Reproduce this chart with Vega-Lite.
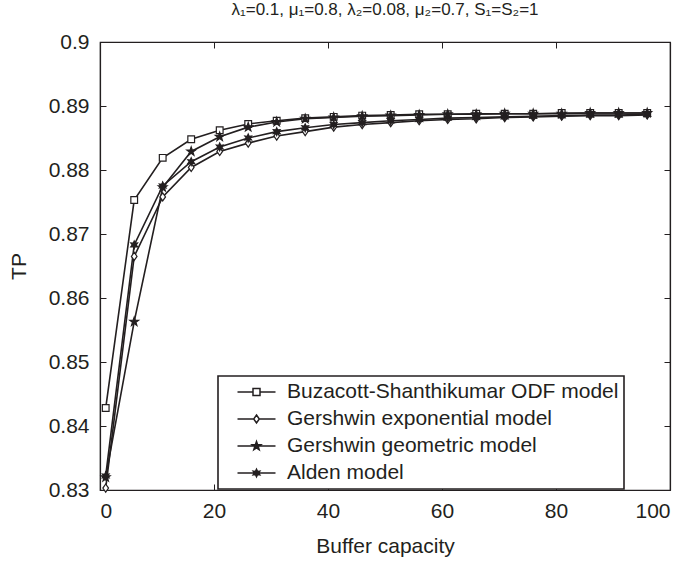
{
  "$schema": "https://vega.github.io/schema/vega-lite/v6.json",
  "width": 570,
  "height": 448,
  "autosize": {"type": "none"},
  "padding": {"left": 100, "top": 42, "right": 17, "bottom": 72},
  "background": "white",
  "title": {"text": "λ₁=0.1, μ₁=0.8, λ₂=0.08, μ₂=0.7, S₁=S₂=1", "fontSize": 17, "font": "Liberation Sans", "fontWeight": "normal", "color": "#231f20", "offset": 12, "anchor": "middle"},
  "config": {
    "view": {"stroke": "#231f20", "strokeWidth": 1.2},
    "legend": {"strokeWidth": 1.6},
    "axis": {"grid": false, "domainColor": "#231f20", "tickColor": "#231f20", "labelColor": "#231f20", "titleColor": "#231f20", "labelFont": "Liberation Sans", "titleFont": "Liberation Sans", "labelFontSize": 21, "titleFontSize": 21, "titleFontWeight": "normal", "tickSize": -6, "domainWidth": 1.2, "tickWidth": 1}
  },
  "data": {"values": [
    {"x":1,"TP":0.8428,"series":"Buzacott-Shanthikumar ODF model"},
    {"x":6,"TP":0.8753,"series":"Buzacott-Shanthikumar ODF model"},
    {"x":11,"TP":0.8819,"series":"Buzacott-Shanthikumar ODF model"},
    {"x":16,"TP":0.8848,"series":"Buzacott-Shanthikumar ODF model"},
    {"x":21,"TP":0.8862,"series":"Buzacott-Shanthikumar ODF model"},
    {"x":26,"TP":0.8872,"series":"Buzacott-Shanthikumar ODF model"},
    {"x":31,"TP":0.8877,"series":"Buzacott-Shanthikumar ODF model"},
    {"x":36,"TP":0.8881,"series":"Buzacott-Shanthikumar ODF model"},
    {"x":41,"TP":0.8883,"series":"Buzacott-Shanthikumar ODF model"},
    {"x":46,"TP":0.8885,"series":"Buzacott-Shanthikumar ODF model"},
    {"x":51,"TP":0.8886,"series":"Buzacott-Shanthikumar ODF model"},
    {"x":56,"TP":0.8887,"series":"Buzacott-Shanthikumar ODF model"},
    {"x":61,"TP":0.8887,"series":"Buzacott-Shanthikumar ODF model"},
    {"x":66,"TP":0.8888,"series":"Buzacott-Shanthikumar ODF model"},
    {"x":71,"TP":0.8888,"series":"Buzacott-Shanthikumar ODF model"},
    {"x":76,"TP":0.8888,"series":"Buzacott-Shanthikumar ODF model"},
    {"x":81,"TP":0.8889,"series":"Buzacott-Shanthikumar ODF model"},
    {"x":86,"TP":0.8889,"series":"Buzacott-Shanthikumar ODF model"},
    {"x":91,"TP":0.8889,"series":"Buzacott-Shanthikumar ODF model"},
    {"x":96,"TP":0.8889,"series":"Buzacott-Shanthikumar ODF model"},
    {"x":1,"TP":0.8303,"series":"Gershwin exponential model"},
    {"x":6,"TP":0.8665,"series":"Gershwin exponential model"},
    {"x":11,"TP":0.8758,"series":"Gershwin exponential model"},
    {"x":16,"TP":0.8804,"series":"Gershwin exponential model"},
    {"x":21,"TP":0.8829,"series":"Gershwin exponential model"},
    {"x":26,"TP":0.8842,"series":"Gershwin exponential model"},
    {"x":31,"TP":0.8853,"series":"Gershwin exponential model"},
    {"x":36,"TP":0.8860,"series":"Gershwin exponential model"},
    {"x":41,"TP":0.8867,"series":"Gershwin exponential model"},
    {"x":46,"TP":0.8871,"series":"Gershwin exponential model"},
    {"x":51,"TP":0.8874,"series":"Gershwin exponential model"},
    {"x":56,"TP":0.8877,"series":"Gershwin exponential model"},
    {"x":61,"TP":0.8879,"series":"Gershwin exponential model"},
    {"x":66,"TP":0.8880,"series":"Gershwin exponential model"},
    {"x":71,"TP":0.8882,"series":"Gershwin exponential model"},
    {"x":76,"TP":0.8883,"series":"Gershwin exponential model"},
    {"x":81,"TP":0.8884,"series":"Gershwin exponential model"},
    {"x":86,"TP":0.8885,"series":"Gershwin exponential model"},
    {"x":91,"TP":0.8885,"series":"Gershwin exponential model"},
    {"x":96,"TP":0.8886,"series":"Gershwin exponential model"},
    {"x":1,"TP":0.8320,"series":"Gershwin geometric model"},
    {"x":6,"TP":0.8563,"series":"Gershwin geometric model"},
    {"x":11,"TP":0.8773,"series":"Gershwin geometric model"},
    {"x":16,"TP":0.8829,"series":"Gershwin geometric model"},
    {"x":21,"TP":0.8852,"series":"Gershwin geometric model"},
    {"x":26,"TP":0.8867,"series":"Gershwin geometric model"},
    {"x":31,"TP":0.8875,"series":"Gershwin geometric model"},
    {"x":36,"TP":0.8880,"series":"Gershwin geometric model"},
    {"x":41,"TP":0.8882,"series":"Gershwin geometric model"},
    {"x":46,"TP":0.8884,"series":"Gershwin geometric model"},
    {"x":51,"TP":0.8885,"series":"Gershwin geometric model"},
    {"x":56,"TP":0.8886,"series":"Gershwin geometric model"},
    {"x":61,"TP":0.8887,"series":"Gershwin geometric model"},
    {"x":66,"TP":0.8887,"series":"Gershwin geometric model"},
    {"x":71,"TP":0.8888,"series":"Gershwin geometric model"},
    {"x":76,"TP":0.8888,"series":"Gershwin geometric model"},
    {"x":81,"TP":0.8888,"series":"Gershwin geometric model"},
    {"x":86,"TP":0.8889,"series":"Gershwin geometric model"},
    {"x":91,"TP":0.8889,"series":"Gershwin geometric model"},
    {"x":96,"TP":0.8889,"series":"Gershwin geometric model"},
    {"x":1,"TP":0.8322,"series":"Alden model"},
    {"x":6,"TP":0.8683,"series":"Alden model"},
    {"x":11,"TP":0.8775,"series":"Alden model"},
    {"x":16,"TP":0.8813,"series":"Alden model"},
    {"x":21,"TP":0.8836,"series":"Alden model"},
    {"x":26,"TP":0.8850,"series":"Alden model"},
    {"x":31,"TP":0.8860,"series":"Alden model"},
    {"x":36,"TP":0.8866,"series":"Alden model"},
    {"x":41,"TP":0.8871,"series":"Alden model"},
    {"x":46,"TP":0.8874,"series":"Alden model"},
    {"x":51,"TP":0.8877,"series":"Alden model"},
    {"x":56,"TP":0.8879,"series":"Alden model"},
    {"x":61,"TP":0.8881,"series":"Alden model"},
    {"x":66,"TP":0.8882,"series":"Alden model"},
    {"x":71,"TP":0.8883,"series":"Alden model"},
    {"x":76,"TP":0.8884,"series":"Alden model"},
    {"x":81,"TP":0.8885,"series":"Alden model"},
    {"x":86,"TP":0.8886,"series":"Alden model"},
    {"x":91,"TP":0.8886,"series":"Alden model"},
    {"x":96,"TP":0.8887,"series":"Alden model"}
  ]},
  "resolve": {"scale": {"x": "independent", "y": "independent", "shape": "independent", "fill": "independent", "stroke": "independent"}},
  "layer": [
    {
      "encoding": {
        "x": {"field": "x", "type": "quantitative", "scale": {"domain": [0, 100], "nice": false}, "axis": {"title": "Buffer capacity", "values": [0, 20, 40, 60, 80, 100], "format": "d", "labelPadding": 16, "titlePadding": 14}},
        "y": {"field": "TP", "type": "quantitative", "scale": {"domain": [0.83, 0.9], "nice": false, "zero": false}, "axis": {"title": "TP", "values": [0.83, 0.84, 0.85, 0.86, 0.87, 0.88, 0.89, 0.9], "format": ".2~f", "labelPadding": 17, "titlePadding": 19}}
      },
      "layer": [
        {"mark": {"type": "line", "stroke": "#231f20", "strokeWidth": 1.6}, "encoding": {"detail": {"field": "series"}}},
        {"mark": {"type": "point", "filled": true, "stroke": "#231f20", "strokeWidth": 1.2, "opacity": 1, "size": 50},
         "encoding": {
           "shape": {"field": "series", "legend": null, "scale": {"domain": ["Buzacott-Shanthikumar ODF model", "Gershwin exponential model", "Gershwin geometric model", "Alden model"], "range": [
             "M-0.95,-0.95H0.95V0.95H-0.95Z",
             "M0,-1.15L0.8,0L0,1.15L-0.8,0Z",
             "M0,-1.3L0.306,-0.421L1.236,-0.402L0.495,0.161L0.764,1.052L0,0.52L-0.764,1.052L-0.495,0.161L-1.236,-0.402L-0.306,-0.421Z",
             "M0,-1.1L0.275,-0.476L0.953,-0.55L0.55,0L0.953,0.55L0.275,0.476L0,1.1L-0.275,0.476L-0.953,0.55L-0.55,0L-0.953,-0.55L-0.275,-0.476Z"
           ]}},
           "fill": {"field": "series", "legend": null, "scale": {"domain": ["Buzacott-Shanthikumar ODF model", "Gershwin exponential model", "Gershwin geometric model", "Alden model"], "range": ["white", "white", "#231f20", "#231f20"]}}
         }}
      ]
    },
    {
      "transform": [{"filter": "datum.x < 0"}],
      "mark": {"type": "point", "filled": true, "strokeWidth": 1.5, "size": 100},
      "encoding": {
        "x": {"field": "x", "type": "quantitative", "scale": {"domain": [0, 100], "nice": false}, "axis": {"orient": "top", "labels": false, "title": null, "values": [0, 20, 40, 60, 80, 100]}},
        "y": {"field": "TP", "type": "quantitative", "scale": {"domain": [0.83, 0.9], "nice": false, "zero": false}, "axis": {"orient": "right", "labels": false, "title": null, "values": [0.83, 0.84, 0.85, 0.86, 0.87, 0.88, 0.89, 0.9]}},
        "shape": {"field": "series", "scale": {"domain": ["Buzacott-Shanthikumar ODF model", "Gershwin exponential model", "Gershwin geometric model", "Alden model"], "range": [
          "M-0.7,-0.7H0.7V0.7H-0.7Z M-3.8,0H-0.7 M0.7,0H3.8",
          "M0,-0.8L0.56,0L0,0.8L-0.56,0Z M-3.8,0H-0.56 M0.56,0H3.8",
          "M0,-0.9L0.212,-0.291L0.856,-0.278L0.342,0.111L0.529,0.728L0,0.36L-0.529,0.728L-0.342,0.111L-0.856,-0.278L-0.212,-0.291Z M-3.8,0H3.8",
          "M0,-0.75L0.1875,-0.325L0.65,-0.375L0.375,0L0.65,0.375L0.1875,0.325L0,0.75L-0.1875,0.325L-0.65,0.375L-0.375,0L-0.65,-0.375L-0.1875,-0.325Z M-3.8,0H3.8"
        ]},
          "legend": {"orient": "none", "legendX": 118, "legendY": 334, "title": null, "strokeColor": "#231f20", "fillColor": "white", "padding": 5.5, "symbolSize": 100, "symbolOffset": 22.5, "labelOffset": 20, "labelFontSize": 21, "labelFont": "Liberation Sans", "labelColor": "#231f20", "rowPadding": 5, "symbolStrokeWidth": 1.5, "symbolOpacity": 1, "labelLimit": 500, "labelExpr": "datum.label + '        '"}},
        "fill": {"field": "series", "scale": {"domain": ["Buzacott-Shanthikumar ODF model", "Gershwin exponential model", "Gershwin geometric model", "Alden model"], "range": ["white", "white", "#231f20", "#231f20"]}, "legend": {"orient": "none", "legendX": 118, "legendY": 334, "title": null}},
        "stroke": {"field": "series", "scale": {"domain": ["Buzacott-Shanthikumar ODF model", "Gershwin exponential model", "Gershwin geometric model", "Alden model"], "range": ["#231f20", "#231f20", "#231f20", "#231f20"]}, "legend": {"orient": "none", "legendX": 118, "legendY": 334, "title": null}}
      }
    }
  ]
}
